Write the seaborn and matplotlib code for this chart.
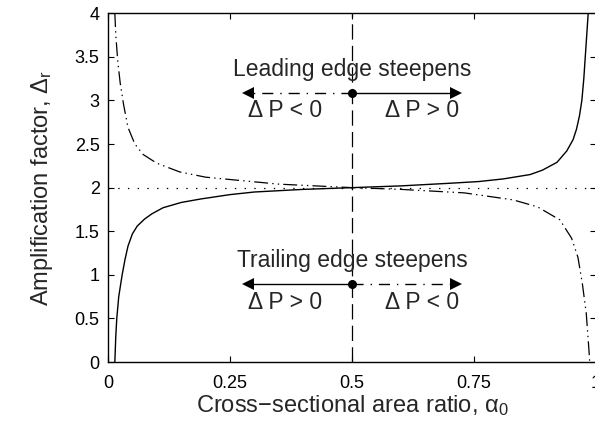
import matplotlib
matplotlib.use("Agg")
import pandas as pd
import matplotlib.pyplot as plt
import seaborn as sns

# data
alpha_solid = [0.014, 0.016, 0.018, 0.022, 0.029, 0.035, 0.041, 0.05, 0.06, 0.075,
               0.09, 0.113, 0.15, 0.19, 0.25, 0.30, 0.40, 0.50, 0.60, 0.70,
               0.76, 0.81, 0.865, 0.89, 0.92, 0.94, 0.953, 0.96, 0.966, 0.971,
               0.975, 0.978, 0.981, 0.984]
delta_solid = [0.0, 0.3, 0.5, 0.75, 1.0, 1.18, 1.33, 1.47, 1.56, 1.64,
               1.70, 1.77, 1.83, 1.87, 1.92, 1.95, 1.98, 2.00, 2.02, 2.05,
               2.07, 2.10, 2.15, 2.20, 2.29, 2.42, 2.55, 2.67, 2.82, 3.0,
               3.25, 3.5, 3.75, 4.0]

alpha_dash = [0.014, 0.016, 0.02, 0.025, 0.032, 0.041, 0.055, 0.072, 0.10, 0.147,
              0.20, 0.256, 0.35, 0.50, 0.60, 0.73, 0.83, 0.88, 0.926, 0.95,
              0.963, 0.972, 0.98, 0.986, 0.987]
delta_dash = [4.0, 3.75, 3.45, 3.2, 2.95, 2.69, 2.5, 2.38, 2.28, 2.18,
              2.12, 2.09, 2.04, 2.00, 1.98, 1.94, 1.86, 1.78, 1.63, 1.42,
              1.2, 0.9, 0.56, 0.1, 0.0]

x_ticks = [0, 0.25, 0.5, 0.75, 1]
x_ticklabels = ["0", "0.25", "0.5", "0.75", "1"]
y_ticks = [0, 0.5, 1, 1.5, 2, 2.5, 3, 3.5, 4]
y_ticklabels = ["0", "0.5", "1", "1.5", "2", "2.5", "3", "3.5", "4"]

sns.set_theme(style="ticks")
plt.rcParams["font.family"] = ["Liberation Sans", "DejaVu Sans"]
plt.rcParams["mathtext.fontset"] = "custom"
plt.rcParams["mathtext.rm"] = "Liberation Sans"
plt.rcParams["mathtext.it"] = "Liberation Sans:italic"
plt.rcParams["lines.scale_dashes"] = False

df_solid = pd.DataFrame({"alpha": alpha_solid, "delta": delta_solid})
df_dash = pd.DataFrame({"alpha": alpha_dash, "delta": delta_dash})

fig = plt.figure(figsize=(5.95, 4.25), dpi=100)
ax = fig.add_axes([0.1815, 0.148, 0.8202, 0.821])

dashdotdot = (0, (10, 3, 1, 3, 1, 3))
sns.lineplot(data=df_solid, x="alpha", y="delta", sort=False, estimator=None,
             color="black", lw=1.0, ax=ax)
sns.lineplot(data=df_dash, x="alpha", y="delta", sort=False, estimator=None,
             color="black", lw=0.9, ax=ax, linestyle=dashdotdot)

ax.axhline(2, color="black", lw=0.9, linestyle=(0, (1, 6)))
ax.axvline(0.5, color="black", lw=0.9, linestyle=(0, (11, 4.5)))

# arrows
dashdot = (0, (8, 5, 1, 5))
for yv, left_ls, right_ls in [(3.08, dashdot, "-"), (0.9, "-", dashdot)]:
    ax.plot([0.5, 0.29], [yv, yv], color="black", lw=1.0, linestyle=left_ls)
    ax.plot([0.5, 0.71], [yv, yv], color="black", lw=1.0, linestyle=right_ls)
    ax.plot([0.287], [yv], marker="<", color="black", ms=8, mew=0)
    ax.plot([0.713], [yv], marker=">", color="black", ms=8, mew=0)
    ax.plot([0.5], [yv], marker="o", color="black", ms=6.5, mew=0)

fs = 16.5
ax.text(0.5, 3.36, "Leading edge steepens", ha="center", va="center", fontsize=fs)
ax.text(0.363, 2.88, "Δ P < 0", ha="center", va="center", fontsize=fs)
ax.text(0.643, 2.88, "Δ P > 0", ha="center", va="center", fontsize=fs)
ax.text(0.5, 1.16, "Trailing edge steepens", ha="center", va="center", fontsize=fs)
ax.text(0.363, 0.68, "Δ P > 0", ha="center", va="center", fontsize=fs)
ax.text(0.643, 0.68, "Δ P < 0", ha="center", va="center", fontsize=fs)

ax.set_xlim(0, 1)
ax.set_ylim(0, 4)
ax.set_xticks(x_ticks)
ax.set_xticklabels(x_ticklabels)
ax.set_yticks(y_ticks)
ax.set_yticklabels(y_ticklabels)
ax.tick_params(direction="in", top=True, right=True, length=4, width=0.8,
               labelsize=13, colors="black", pad=6)
ax.tick_params(axis="x", pad=9)
for s in ax.spines.values():
    s.set_visible(True)
    s.set_linewidth(1.0)
    s.set_color("black")

ax.set_xlabel("Cross\u2212sectional area ratio, $\\mathrm{\\alpha}_\\mathrm{0}$",
              fontsize=17, labelpad=1)
ax.set_ylabel("Amplification factor, $\\Delta_\\mathrm{r}$", fontsize=17, labelpad=14)

fig.savefig("out.png", dpi=100)
